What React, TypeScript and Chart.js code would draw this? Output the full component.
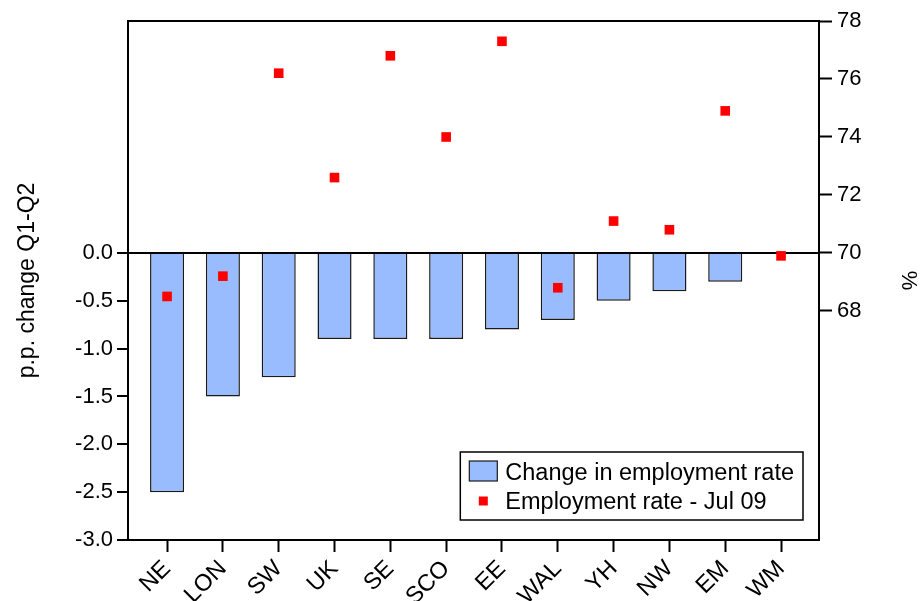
import React, { useEffect, useRef } from "react";
import { Chart, registerables } from "chart.js";

Chart.register(...registerables);

const categories = ["NE", "LON", "SW", "UK", "SE", "SCO", "EE", "WAL", "YH", "NW", "EM", "WM"];
const changeInRate = [-2.5, -1.5, -1.3, -0.9, -0.9, -0.9, -0.8, -0.7, -0.5, -0.4, -0.3, 0.0];
const rateJul09 = [68.5, 69.2, 76.2, 72.6, 76.8, 74.0, 77.3, 68.8, 71.1, 70.8, 74.9, 69.9];
const leftTicks = [-3.0, -2.5, -2.0, -1.5, -1.0, -0.5, 0.0];
const rightTicks = [68, 70, 72, 74, 76, 78];
const leftRange = [-3, 2.425];
const rightRange = [60.1, 78];
const seriesLabels = ["Change in employment rate", "Employment rate - Jul 09"];

const FONT = "'Liberation Sans', Arial, sans-serif";
const BAR_FILL = "#99bbff";
const BAR_EDGE = "#1a1a1a";
const POINT_FILL = "#ff0000";

const framePlugin = {
  id: "frameAndLegend",
  afterDraw(chart: any) {
    const { ctx, chartArea } = chart;
    ctx.save();
    ctx.strokeStyle = "#000";
    ctx.lineWidth = 2;
    ctx.strokeRect(chartArea.left, chartArea.top, chartArea.right - chartArea.left, chartArea.bottom - chartArea.top);

    ctx.font = `23.5px ${FONT}`;
    const labels = chart.data.datasets.map((d: any) => d.label);
    const textW = Math.max(...labels.map((l: string) => ctx.measureText(l).width));
    const boxRight = chartArea.right - 16;
    const boxBottom = chartArea.bottom - 20;
    const boxW = 9 + 28 + 8 + textW + 9;
    const boxH = 68;
    const boxLeft = boxRight - boxW;
    const boxTop = boxBottom - boxH;
    ctx.fillStyle = "#fff";
    ctx.fillRect(boxLeft, boxTop, boxW, boxH);
    ctx.lineWidth = 1.5;
    ctx.strokeStyle = "#000";
    ctx.strokeRect(boxLeft, boxTop, boxW, boxH);

    const ds0 = chart.data.datasets[0];
    ctx.fillStyle = ds0.backgroundColor;
    ctx.fillRect(boxLeft + 9, boxTop + 9, 28, 20);
    ctx.strokeStyle = ds0.borderColor;
    ctx.lineWidth = 1.2;
    ctx.strokeRect(boxLeft + 9, boxTop + 9, 28, 20);
    const ds1 = chart.data.datasets[1];
    ctx.fillStyle = ds1.backgroundColor;
    ctx.fillRect(boxLeft + 9 + 14 - 4.5, boxBottom - 19 - 4.5, 9, 9);

    ctx.fillStyle = "#000";
    ctx.textBaseline = "alphabetic";
    ctx.textAlign = "left";
    ctx.fillText(labels[0], boxLeft + 45, boxBottom - 40);
    ctx.fillText(labels[1], boxLeft + 45, boxBottom - 11);
    ctx.restore();
  },
};

export default function App() {
  const canvasRef = useRef<HTMLCanvasElement | null>(null);

  useEffect(() => {
    if (!canvasRef.current) return;
    Chart.defaults.font.family = FONT;
    Chart.defaults.color = "#000";

    const chart = new Chart(canvasRef.current, {
      type: "bar",
      data: {
        datasets: [
          {
            type: "bar",
            label: seriesLabels[0],
            data: changeInRate.map((v, i) => ({ x: i, y: v })),
            backgroundColor: BAR_FILL,
            borderColor: BAR_EDGE,
            borderWidth: 1.5,
            barPercentage: 0.61,
            categoryPercentage: 1,
            yAxisID: "y",
            xAxisID: "x",
            order: 2,
          } as any,
          {
            type: "scatter",
            label: seriesLabels[1],
            data: rateJul09.map((v, i) => ({ x: i, y: v })),
            backgroundColor: POINT_FILL,
            borderColor: POINT_FILL,
            borderWidth: 0,
            pointStyle: "rect",
            pointRadius: 6.8,
            yAxisID: "y1",
            xAxisID: "x",
            order: 1,
          } as any,
        ],
      },
      options: {
        animation: false,
        responsive: true,
        maintainAspectRatio: false,
        layout: { padding: { top: 21, left: 0, right: 0, bottom: 0 } },
        plugins: {
          legend: { display: false },
          tooltip: { enabled: false },
        },
        scales: {
          x: {
            type: "linear",
            position: "bottom",
            offset: false,
            min: -0.7,
            max: 11.68,
            afterBuildTicks: (scale: any) => {
              scale.ticks = categories.map((_, i) => ({ value: i }));
            },
            afterFit: (scale: any) => {
              scale.height = 61;
            },
            ticks: {
              autoSkip: false,
              minRotation: 45,
              maxRotation: 45,
              padding: 3,
              font: { size: 23.5, family: FONT },
              color: "#000",
              callback: (v: any) => categories[Math.round(Number(v))] ?? "",
            },
            grid: {
              offset: false,
              drawOnChartArea: false,
              drawTicks: true,
              tickLength: 12,
              tickColor: "#000",
              tickWidth: 2,
              color: "#000",
            },
            border: { display: false },
          },
          y: {
            type: "linear",
            position: "left",
            min: leftRange[0],
            max: leftRange[1],
            afterBuildTicks: (scale: any) => {
              scale.ticks = leftTicks.map((v) => ({ value: v }));
            },
            afterFit: (scale: any) => {
              scale.width = 128;
            },
            ticks: {
              padding: 4,
              font: { size: 22, family: FONT },
              color: "#000",
              callback: (v: any) => Number(v).toFixed(1),
            },
            grid: {
              drawOnChartArea: true,
              drawTicks: true,
              tickLength: 11,
              tickColor: "#000",
              tickWidth: 2,
              lineWidth: 2,
              color: (c: any) => (c.tick && c.tick.value === 0 ? "#000" : "rgba(0,0,0,0)"),
            },
            border: { display: false },
            title: {
              display: true,
              text: "p.p. change Q1-Q2",
              font: { size: 23, family: FONT },
              color: "#000",
              padding: { top: 14, bottom: 0 },
            },
          },
          y1: {
            type: "linear",
            position: "right",
            min: rightRange[0],
            max: rightRange[1],
            afterBuildTicks: (scale: any) => {
              scale.ticks = rightTicks.map((v) => ({ value: v }));
            },
            afterFit: (scale: any) => {
              scale.width = 102;
            },
            ticks: {
              padding: 5,
              font: { size: 22, family: FONT },
              color: "#000",
              callback: (v: any) => String(v),
            },
            grid: {
              drawOnChartArea: false,
              drawTicks: true,
              tickLength: 13,
              tickColor: "#000",
              tickWidth: 2,
            },
            border: { display: false },
            title: {
              display: true,
              text: "%",
              font: { size: 22, family: FONT },
              color: "#000",
              padding: { top: 0, bottom: 0 },
            },
          },
        },
      } as any,
      plugins: [framePlugin],
    });

    return () => chart.destroy();
  }, []);

  return (
    <div style={{ position: "fixed", left: 0, top: 0, width: 921, height: 601, background: "#fff" }}>
      <canvas ref={canvasRef} />
    </div>
  );
}
